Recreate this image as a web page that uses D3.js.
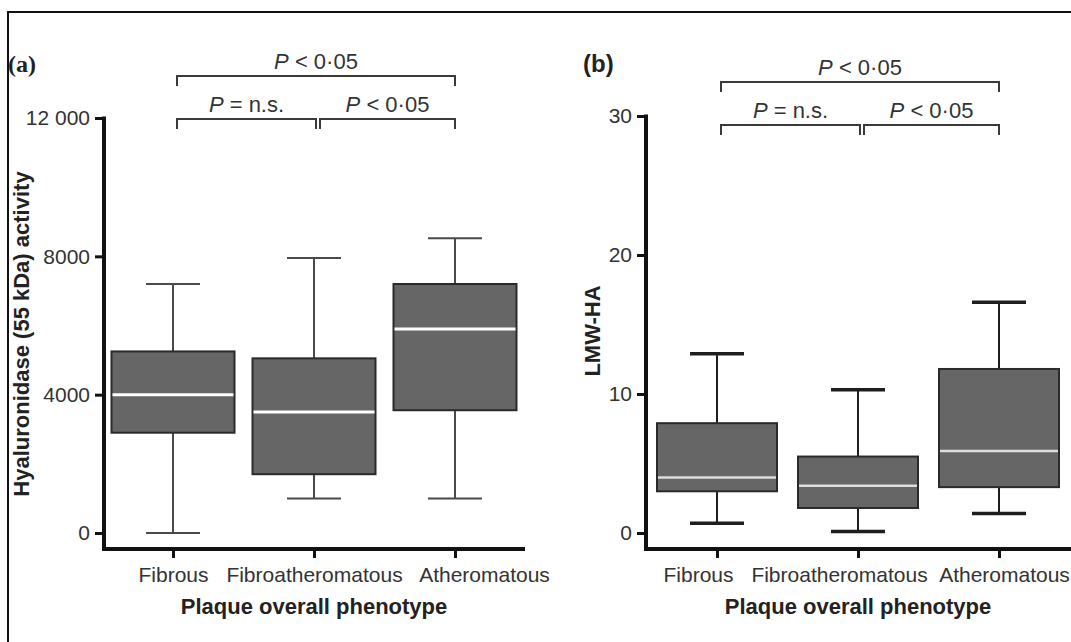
<!DOCTYPE html>
<html lang="en">
<head>
<meta charset="UTF-8">
<title>Plaque phenotype box plots</title>
<script src="https://d3js.org/d3.v7.min.js"></script>
<style>
  body { margin: 0; background: #fff; }
  svg { display: block; font-family: "Liberation Sans", Arial, sans-serif; }
  .tick text { fill: #333; font-size: 21px; }
  .ytitle, .xtitle { font-weight: bold; font-size: 22px; fill: #222; }
  .plabel { font-size: 22px; fill: #333; }
</style>
</head>
<body>
<div id="chart"></div>
<script>
// categories and values
const categories = ['Fibrous', 'Fibroatheromatous', 'Atheromatous'];

// (a) hyaluronidase (55 kDa) activity
const hyalMin    = [0, 1000, 1000];
const hyalQ1     = [2900, 1700, 3550];
const hyalMedian = [4000, 3500, 5900];
const hyalQ3     = [5250, 5050, 7200];
const hyalMax    = [7200, 7950, 8520];
const hyalTicks  = [0, 4000, 8000, 12000];
const hyalTickLabels = ['0', '4000', '8000', '12 000'];

// (b) LMW-HA
const lmwMin    = [0.7, 0.1, 1.4];
const lmwQ1     = [3.0, 1.8, 3.3];
const lmwMedian = [4.0, 3.4, 5.9];
const lmwQ3     = [7.9, 5.5, 11.8];
const lmwMax    = [12.9, 10.3, 16.6];
const lmwTicks  = [0, 10, 20, 30];
const lmwTickLabels = ['0', '10', '20', '30'];

// pairwise comparisons shown above the boxes
const comparisons = [
  { from: 0, to: 2, level: 0, text: ' < 0·05' },
  { from: 0, to: 1, level: 1, text: ' = n.s.' },
  { from: 1, to: 2, level: 1, text: ' < 0·05' }
];

const W = 1071, H = 642;
const svg = d3.select('#chart').append('svg')
    .attr('width', W)
    .attr('height', H);

// frame (top and left edges only)
svg.append('path')
    .attr('d', `M8,${H} V12 H${W}`)
    .attr('fill', 'none')
    .attr('stroke', '#111')
    .attr('stroke-width', 2);

function drawPanel(p) {
  const g = svg.append('g');
  const y = d3.scaleLinear().domain([0, p.yMax]).range([533, p.yTop]);
  const x = d3.scalePoint().domain(categories).range(p.xRange);
  const bottom = 549;

  const rows = categories.map((c, i) => ({
    cat: c, min: p.min[i], q1: p.q1[i], med: p.med[i], q3: p.q3[i], max: p.max[i]
  }));

  // y axis
  const yAxis = g.append('g')
      .attr('transform', `translate(${p.axisX},0)`)
      .call(d3.axisLeft(y).tickValues(p.ticks).tickSize(9).tickPadding(5)
        .tickFormat((d, i) => p.tickLabels[i]));
  yAxis.select('.domain').remove();
  yAxis.selectAll('.tick line').attr('stroke', '#111').attr('stroke-width', 3);
  g.append('line')
      .attr('x1', p.axisX).attr('x2', p.axisX)
      .attr('y1', y(p.yMax) - 1.5).attr('y2', bottom + 2)
      .attr('stroke', '#111').attr('stroke-width', 4);

  // x axis
  const xAxis = g.append('g')
      .attr('transform', `translate(0,${bottom})`)
      .call(d3.axisBottom(x).tickSize(9).tickPadding(9));
  xAxis.select('.domain').remove();
  xAxis.selectAll('.tick line').attr('stroke', '#111').attr('stroke-width', 3);
  xAxis.selectAll('.tick text').attr('dx', (d, i) => p.labelShift[i]);
  g.append('line')
      .attr('x1', p.axisX - 2).attr('x2', p.xEnd)
      .attr('y1', bottom).attr('y2', bottom)
      .attr('stroke', '#111').attr('stroke-width', 4);

  // whiskers
  g.selectAll('.whisker').data(rows).enter().append('line')
      .attr('x1', d => x(d.cat)).attr('x2', d => x(d.cat))
      .attr('y1', d => y(d.min)).attr('y2', d => y(d.max))
      .attr('stroke', p.whiskerColor).attr('stroke-width', 2);
  ['min', 'max'].forEach(k => {
    g.selectAll('.cap-' + k).data(rows).enter().append('line')
        .attr('x1', d => x(d.cat) - p.capW / 2).attr('x2', d => x(d.cat) + p.capW / 2)
        .attr('y1', d => y(d[k])).attr('y2', d => y(d[k]))
        .attr('stroke', p.whiskerColor).attr('stroke-width', p.capStroke);
  });

  // boxes
  g.selectAll('.box').data(rows).enter().append('rect')
      .attr('x', d => x(d.cat) - p.boxW / 2)
      .attr('width', p.boxW)
      .attr('y', d => y(d.q3))
      .attr('height', d => y(d.q1) - y(d.q3))
      .attr('fill', '#666')
      .attr('stroke', '#2a2a2a')
      .attr('stroke-width', 2);

  // medians
  g.selectAll('.median').data(rows).enter().append('line')
      .attr('x1', d => x(d.cat) - p.boxW / 2 + 1).attr('x2', d => x(d.cat) + p.boxW / 2 - 1)
      .attr('y1', d => y(d.med)).attr('y2', d => y(d.med))
      .attr('stroke', p.medianColor).attr('stroke-width', p.medianStroke);

  // axis titles
  g.append('text')
      .attr('class', 'ytitle')
      .attr('transform', `translate(${p.yTitleX},${p.yTitleY}) rotate(-90)`)
      .attr('text-anchor', 'middle')
      .attr('dy', '0.35em')
      .text(p.yTitle);
  g.append('text')
      .attr('class', 'xtitle')
      .attr('x', x(categories[1]))
      .attr('y', 614)
      .attr('text-anchor', 'middle')
      .text('Plaque overall phenotype');

  // panel letter
  g.append('text')
      .attr('x', p.letterX).attr('y', 72)
      .attr('font-weight', 'bold')
      .attr('font-size', 24)
      .attr('font-family', p.letterFont)
      .attr('fill', '#222')
      .text(p.letter);

  // significance brackets
  comparisons.forEach(c => {
    const by = p.bracketY[c.level];
    const x1 = x(categories[c.from]) + (c.from === 1 ? 6 : 4);
    const x2 = x(categories[c.to]) + (c.to === 1 ? 2 : 0);
    g.append('path')
        .attr('d', `M${x1},${by + p.bracketTick} V${by} H${x2} V${by + p.bracketTick}`)
        .attr('fill', 'none')
        .attr('stroke', '#3a3a3a')
        .attr('stroke-width', 2);
    const t = g.append('text')
        .attr('class', 'plabel')
        .attr('x', (x1 + x2) / 2)
        .attr('y', by - 7)
        .attr('text-anchor', 'middle');
    t.append('tspan').attr('font-style', 'italic').text('P');
    t.append('tspan').text(c.text);
  });
}

drawPanel({
  letter: '(a)', letterX: 8, letterFont: '"Liberation Serif", serif',
  min: hyalMin, q1: hyalQ1, med: hyalMedian, q3: hyalQ3, max: hyalMax,
  ticks: hyalTicks, tickLabels: hyalTickLabels, yMax: 12000, yTop: 118,
  xRange: [173, 455], axisX: 104, xEnd: 525,
  labelShift: [0, 0, 29],
  boxW: 123, capW: 54, capStroke: 2, whiskerColor: '#4a4a4a',
  medianColor: '#fff', medianStroke: 3,
  yTitle: 'Hyaluronidase (55 kDa) activity', yTitleX: 21, yTitleY: 334,
  bracketY: [76, 119], bracketTick: 10
});

drawPanel({
  letter: '(b)', letterX: 583, letterFont: '"Liberation Sans", Arial, sans-serif',
  min: lmwMin, q1: lmwQ1, med: lmwMedian, q3: lmwQ3, max: lmwMax,
  ticks: lmwTicks, tickLabels: lmwTickLabels, yMax: 30, yTop: 116,
  xRange: [717, 999], axisX: 646, xEnd: 1071,
  labelShift: [-19, -19, 5],
  boxW: 120, capW: 54, capStroke: 3.5, whiskerColor: '#1e1e1e',
  medianColor: '#ddd', medianStroke: 2.5,
  yTitle: 'LMW-HA', yTitleX: 592, yTitleY: 331,
  bracketY: [82, 125], bracketTick: 10
});
</script>
</body>
</html>
